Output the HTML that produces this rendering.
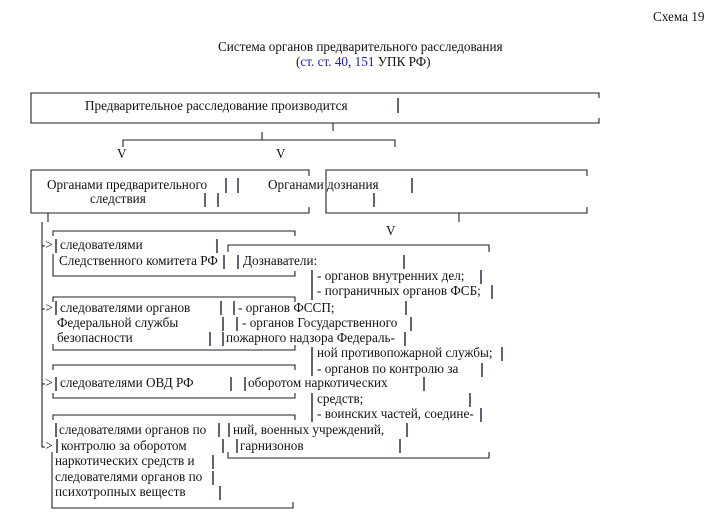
<!DOCTYPE html>
<html><head><meta charset="utf-8"><style>
html,body{margin:0;padding:0;background:#fff;}
svg{display:block;}
text{font-family:"Liberation Serif",serif;font-size:13.2px;fill:#111;}
.l{stroke:#222;stroke-width:1.1;fill:none;}
.b{stroke:#2e1a3e;stroke-width:1.4;}
</style></head><body>
<svg width="728" height="525" xmlns="http://www.w3.org/2000/svg">
<text x="653" y="21">Схема 19</text>
<text x="218" y="51">Система органов предварительного расследования</text>
<text x="296" y="66"><tspan>(</tspan><tspan style="fill:#1a1acc">ст. ст. 40</tspan><tspan>, </tspan><tspan style="fill:#1a1acc">151</tspan><tspan> УПК РФ)</tspan></text>

<!-- top box -->
<path class="l" d="M31 98 V93 H599 V98 M31 93 V123 H599 V118"/>
<text x="85" y="110">Предварительное расследование производится</text>
<line class="b" x1="398" y1="98" x2="398" y2="113"/>
<path class="l" d="M333 131 V123 M262 132 V140 M123 147 V140 H395 V147"/>
<text x="117" y="158">V</text>
<text x="276" y="158">V</text>

<!-- second row -->
<path class="l" d="M31 176 V170 H309 V176 M31 170 V213 H309 V207"/>
<path class="l" d="M326 176 V170 H587 V176 M326 170 V213 H587 V207"/>
<text x="47" y="189">Органами предварительного</text>
<text x="90" y="203">следствия</text>
<line class="b" x1="226" y1="178" x2="226" y2="193"/>
<line class="b" x1="238" y1="178" x2="238" y2="193"/>
<line class="b" x1="205" y1="193" x2="205" y2="207"/>
<line class="b" x1="218" y1="193" x2="218" y2="207"/>
<text x="268" y="189">Органами дознания</text>
<line class="b" x1="412" y1="178" x2="412" y2="193"/>
<line class="b" x1="374" y1="193" x2="374" y2="207"/>
<path class="l" d="M48 213 V222 M459 213 V222"/>
<text x="386" y="235">V</text>

<!-- main vertical -->
<path class="l" d="M42 222 V447"/>
<text x="41" y="249">-&gt;</text>
<text x="41" y="312">-&gt;</text>
<text x="41" y="387">-&gt;</text>
<path class="l" d="M42 447 H44"/>
<text x="41" y="450">-&gt;</text>

<!-- box1 -->
<path class="l" d="M53 236 V231 H295 V236 M53 254 V276 H295 V271"/>
<line class="b" x1="56" y1="239" x2="56" y2="253"/>
<text x="60" y="249">следователями</text>
<line class="b" x1="217" y1="239" x2="217" y2="253"/>
<text x="59" y="265">Следственного комитета РФ</text>
<line class="b" x1="224" y1="255" x2="224" y2="269"/>
<line class="b" x1="238" y1="255" x2="238" y2="269"/>

<!-- dozn box -->
<path class="l" d="M228 252 V245 H489 V252 M228 452 V458 H489 V452"/>
<text x="243" y="265">Дознаватели:</text>
<line class="b" x1="404" y1="255" x2="404" y2="269"/>
<line class="b" x1="312" y1="270" x2="312" y2="300"/>
<text x="317" y="280">- органов внутренних дел;</text>
<line class="b" x1="481" y1="270" x2="481" y2="284"/>
<text x="317" y="295">- пограничных органов ФСБ;</text>
<line class="b" x1="492" y1="285" x2="492" y2="299"/>

<!-- box2 -->
<path class="l" d="M53 302 V297 H295 V302 M53 344 V350 H295 V345"/>
<line class="b" x1="56" y1="301" x2="56" y2="315"/>
<text x="60" y="312">следователями органов</text>
<line class="b" x1="221" y1="301" x2="221" y2="315"/>
<line class="b" x1="234" y1="301" x2="234" y2="315"/>
<text x="238" y="312">- органов ФССП;</text>
<line class="b" x1="406" y1="301" x2="406" y2="315"/>
<text x="57" y="327">Федеральной службы</text>
<line class="b" x1="223" y1="317" x2="223" y2="331"/>
<line class="b" x1="237" y1="317" x2="237" y2="331"/>
<text x="242" y="327">- органов Государственного</text>
<line class="b" x1="411" y1="317" x2="411" y2="331"/>
<text x="57" y="342">безопасности</text>
<line class="b" x1="210" y1="332" x2="210" y2="346"/>
<line class="b" x1="223" y1="332" x2="223" y2="346"/>
<text x="226" y="342">пожарного надзора Федераль-</text>
<line class="b" x1="405" y1="332" x2="405" y2="346"/>

<line class="b" x1="312" y1="347" x2="312" y2="376"/>
<text x="317" y="357">ной противопожарной службы;</text>
<line class="b" x1="502" y1="347" x2="502" y2="361"/>
<text x="317" y="373">- органов по контролю за</text>
<line class="b" x1="482" y1="363" x2="482" y2="377"/>

<!-- box3 -->
<path class="l" d="M53 370 V365 H295 V370 M53 393 V398 H295 V393"/>
<line class="b" x1="56" y1="377" x2="56" y2="391"/>
<text x="60" y="387">следователями ОВД РФ</text>
<line class="b" x1="231" y1="377" x2="231" y2="391"/>
<line class="b" x1="245" y1="377" x2="245" y2="391"/>
<text x="248" y="387">оборотом наркотических</text>
<line class="b" x1="424" y1="377" x2="424" y2="391"/>
<line class="b" x1="312" y1="393" x2="312" y2="422"/>
<text x="317" y="403">средств;</text>
<line class="b" x1="470" y1="393" x2="470" y2="407"/>
<text x="317" y="418">- воинских частей, соедине-</text>
<line class="b" x1="481" y1="408" x2="481" y2="422"/>

<!-- box4 -->
<path class="l" d="M53 420 V415 H295 V420 M52 452 V508 H293 V502"/>
<line class="b" x1="56" y1="423" x2="56" y2="437"/>
<text x="59" y="434">следователями органов по</text>
<line class="b" x1="219" y1="423" x2="219" y2="437"/>
<line class="b" x1="229" y1="423" x2="229" y2="437"/>
<text x="233" y="434">ний, военных учреждений,</text>
<line class="b" x1="407" y1="423" x2="407" y2="437"/>
<line class="b" x1="57" y1="439" x2="57" y2="453"/>
<text x="61" y="450">контролю за оборотом</text>
<line class="b" x1="223" y1="439" x2="223" y2="453"/>
<line class="b" x1="237" y1="439" x2="237" y2="453"/>
<text x="240" y="450">гарнизонов</text>
<line class="b" x1="400" y1="439" x2="400" y2="453"/>
<text x="55" y="465">наркотических средств и</text>
<line class="b" x1="213" y1="455" x2="213" y2="469"/>
<text x="55" y="481">следователями органов по</text>
<line class="b" x1="213" y1="471" x2="213" y2="485"/>
<text x="55" y="496">психотропных веществ</text>
<line class="b" x1="220" y1="486" x2="220" y2="500"/>
</svg>
</body></html>
